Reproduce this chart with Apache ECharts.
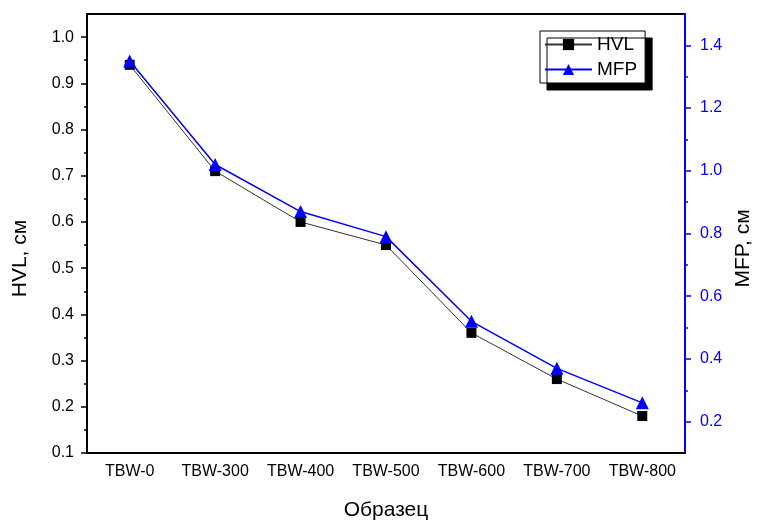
<!DOCTYPE html>
<html>
<head>
<meta charset="utf-8">
<script src="https://cdn.jsdelivr.net/npm/echarts@6/dist/echarts.min.js"></script>
<style>html,body{margin:0;padding:0;background:#fff;}#c{width:757px;height:520px;}</style>
</head>
<body>
<div id="c"></div>
<script>
const categories = ['TBW-0', 'TBW-300', 'TBW-400', 'TBW-500', 'TBW-600', 'TBW-700', 'TBW-800'];
const hvlValues = [0.94, 0.71, 0.60, 0.55, 0.36, 0.26, 0.18];
const mfpValues = [1.35, 1.02, 0.87, 0.79, 0.52, 0.37, 0.26];
const hvlTicks = [0.1, 0.2, 0.3, 0.4, 0.5, 0.6, 0.7, 0.8, 0.9, 1.0];
const hvlMinorTicks = [0.15, 0.25, 0.35, 0.45, 0.55, 0.65, 0.75, 0.85, 0.95];
const mfpTicks = [0.2, 0.4, 0.6, 0.8, 1.0, 1.2, 1.4];
const mfpMinorTicks = [0.3, 0.5, 0.7, 0.9, 1.1, 1.3];

const FONT = "'Liberation Sans', Arial, sans-serif";
const BLUE = '#0000ff';

const chart = echarts.init(document.getElementById('c'), null, {renderer: 'canvas'});
chart.setOption({
  backgroundColor: '#fff',
  animation: false,
  textStyle: {fontFamily: FONT},
  grid: {left: 87, right: 72, top: 14, bottom: 67, outerBoundsMode: 'none', containLabel: false,
    show: true, borderColor: '#000', borderWidth: 2, backgroundColor: 'transparent'},
  legend: {
    orient: 'vertical', left: 540, top: 31,
    padding: [4, 8, 4, 4], itemGap: 6, itemWidth: 47, itemHeight: 14,
    backgroundColor: '#fff', borderColor: '#000', borderWidth: 1,
    shadowColor: '#000', shadowBlur: 0, shadowOffsetX: 7, shadowOffsetY: 7,
    textStyle: {fontSize: 19, color: '#000', fontFamily: FONT},
    data: ['HVL', 'MFP']
  },
  xAxis: [
    {
      type: 'category', data: categories, position: 'bottom', boundaryGap: true,
      axisLine: {lineStyle: {color: '#000', width: 2}},
      axisTick: {alignWithLabel: true, interval: 0, length: 6, lineStyle: {color: '#000', width: 1.5}},
      axisLabel: {interval: 0, color: '#000', fontSize: 16, margin: 11, fontFamily: FONT},
      splitLine: {show: false},
      name: 'Образец', nameLocation: 'middle', nameGap: 47,
      nameTextStyle: {fontSize: 21, color: '#000', fontFamily: FONT}
    },
    {
      type: 'category', data: categories, position: 'bottom', boundaryGap: true,
      axisLine: {show: false},
      axisTick: {interval: 0, length: 3, lineStyle: {color: '#000', width: 1.5}},
      axisLabel: {show: false, interval: 0},
      splitLine: {show: false}
    }
  ],
  yAxis: [
    {
      type: 'value', position: 'left', min: 0.1, max: 1.05,
      axisLine: {show: true, lineStyle: {color: '#000', width: 2}},
      axisTick: {show: true, customValues: hvlTicks, length: 6, lineStyle: {color: '#000', width: 1.5}},
      axisLabel: {customValues: hvlTicks, color: '#000', fontSize: 16, margin: 13, fontFamily: FONT,
        formatter: v => v.toFixed(1)},
      splitLine: {show: false},
      name: 'HVL, см', nameLocation: 'middle', nameGap: 56,
      nameTextStyle: {fontSize: 21, color: '#000', fontFamily: FONT, padding: [0, 50, 0, 0]}
    },
    {
      type: 'value', position: 'left', min: 0.1, max: 1.05,
      axisLine: {show: false},
      axisTick: {show: true, customValues: hvlMinorTicks, length: 3, lineStyle: {color: '#000', width: 1.5}},
      axisLabel: {show: false},
      splitLine: {show: false}
    },
    {
      type: 'value', position: 'right', min: 0.1, max: 1.5,
      axisLine: {show: true, lineStyle: {color: BLUE, width: 2}},
      axisTick: {show: true, customValues: mfpTicks, length: 6, lineStyle: {color: BLUE, width: 1.5}},
      axisLabel: {customValues: mfpTicks, color: BLUE, fontSize: 16, margin: 15, fontFamily: FONT,
        formatter: v => v.toFixed(1)},
      splitLine: {show: false},
      name: 'MFP, см', nameLocation: 'middle', nameGap: 48,
      nameTextStyle: {fontSize: 21, color: '#000', fontFamily: FONT, padding: [0, 30, 0, 0]}
    },
    {
      type: 'value', position: 'right', min: 0.1, max: 1.5,
      axisLine: {show: false},
      axisTick: {show: true, customValues: mfpMinorTicks, length: 3, lineStyle: {color: BLUE, width: 1.5}},
      axisLabel: {show: false},
      splitLine: {show: false}
    }
  ],
  series: [
    {
      name: 'HVL', type: 'line', xAxisIndex: 0, yAxisIndex: 0, data: hvlValues,
      symbol: 'rect', symbolSize: 10, showAllSymbol: true,
      itemStyle: {color: '#000'},
      lineStyle: {color: '#333', width: 1}
    },
    {
      name: 'MFP', type: 'line', xAxisIndex: 0, yAxisIndex: 2, data: mfpValues,
      symbol: 'triangle', symbolSize: 13, showAllSymbol: true,
      itemStyle: {color: BLUE},
      lineStyle: {color: BLUE, width: 1.5}
    }
  ]
});
</script>
</body>
</html>
